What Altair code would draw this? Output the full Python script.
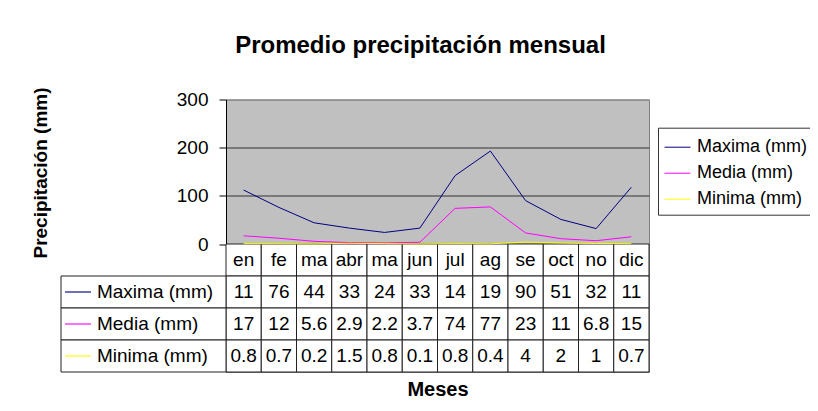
import altair as alt
import pandas as pd

FONT = "Liberation Sans"

meses = ["enero", "febrero", "marzo", "abril", "mayo", "junio", "julio",
         "agosto", "septiembre", "octubre", "noviembre", "diciembre"]
meses_etiqueta = ["en", "fe", "ma", "abr", "ma", "jun", "jul", "ag", "se", "oct", "no", "dic"]
series = ["Maxima (mm)", "Media (mm)", "Minima (mm)"]
colores = ["#000080", "#ff00ff", "#ffff00"]

maxima = [112, 76, 44, 33, 24, 33, 142, 193, 90, 51, 32, 118]
media = [17, 12, 5.6, 2.9, 2.2, 3.7, 74, 77, 23, 11, 6.8, 15]
minima = [0.8, 0.7, 0.2, 1.5, 0.8, 0.1, 0.8, 0.4, 4, 2, 1, 0.7]

tabla_maxima = ["11", "76", "44", "33", "24", "33", "14", "19", "90", "51", "32", "11"]
tabla_media = ["17", "12", "5.6", "2.9", "2.2", "3.7", "74", "77", "23", "11", "6.8", "15"]
tabla_minima = ["0.8", "0.7", "0.2", "1.5", "0.8", "0.1", "0.8", "0.4", "4", "2", "1", "0.7"]

y_ticks = [0, 100, 200, 300]
fila_mes = "mes"
filas = [fila_mes] + series

# ---- data frames built from the lists ----
lineas = pd.DataFrame(
    [{"mes": m, "idx": i, "serie": s, "valor": v}
     for s, vals in zip(series, [maxima, media, minima])
     for i, (m, v) in enumerate(zip(meses, vals))]
)

celdas = [{"mes": m, "fila": fila_mes, "texto": t} for m, t in zip(meses, meses_etiqueta)]
for s, textos in zip(series, [tabla_maxima, tabla_media, tabla_minima]):
    celdas += [{"mes": m, "fila": s, "texto": t} for m, t in zip(meses, textos)]
celdas = pd.DataFrame(celdas)

etiquetas = pd.DataFrame({"col": ["etiqueta"] * len(series), "fila": series, "color": colores})

PLOT_H = 144.5
TOTAL_H = 272.5
WIDTH = 423

mes_band = alt.Scale(domain=meses, type="band", paddingInner=0, paddingOuter=0)
fila_band = alt.Scale(domain=filas, type="band", range=[PLOT_H, TOTAL_H], paddingInner=0, paddingOuter=0)
lab_band = alt.Scale(domain=["etiqueta"], type="band", range=[-165, 0], paddingInner=0, paddingOuter=0)

# ---- table ----
celda_rect = alt.Chart(celdas).mark_rect(fill="white", stroke="#222222", strokeWidth=1).encode(
    x=alt.X("mes:N", scale=mes_band,
            axis=alt.Axis(title="Meses", labels=False, ticks=False, domain=False, grid=False,
                          titleFont=FONT, titleFontSize=20, titleFontWeight="bold",
                          titleColor="black", titlePadding=7)),
    y=alt.Y("fila:N", scale=fila_band, axis=None),
)
celda_texto = alt.Chart(celdas).mark_text(font=FONT, fontSize=19, color="black", baseline="middle").encode(
    x=alt.X("mes:N", scale=mes_band, axis=None, bandPosition=0.5),
    y=alt.Y("fila:N", scale=fila_band, axis=None, bandPosition=0.5),
    text="texto:N",
)

lab_rect = alt.Chart(etiquetas).mark_rect(fill="white", stroke="#222222", strokeWidth=1).encode(
    x=alt.X("col:N", scale=lab_band, axis=None),
    y=alt.Y("fila:N", scale=fila_band, axis=None),
)
lab_clave = alt.Chart(etiquetas).mark_point(shape="stroke", size=676, filled=False,
                                            strokeWidth=1.5, opacity=0.75).encode(
    x=alt.X("col:N", scale=lab_band, axis=None, bandPosition=0.103),
    y=alt.Y("fila:N", scale=fila_band, axis=None, bandPosition=0.5),
    color=alt.Color("color:N", scale=None),
)
lab_texto = alt.Chart(etiquetas).mark_text(font=FONT, fontSize=19, color="black",
                                           align="left", baseline="middle").encode(
    x=alt.X("col:N", scale=lab_band, axis=None, bandPosition=0.218),
    y=alt.Y("fila:N", scale=fila_band, axis=None, bandPosition=0.5),
    text="fila:N",
)

# ---- lines ----
lineas_chart = alt.Chart(lineas).mark_line(strokeWidth=1).encode(
    x=alt.X("mes:N", scale=alt.Scale(domain=meses, type="point", padding=0.5), axis=None),
    y=alt.Y("valor:Q",
            scale=alt.Scale(domain=[0, 300], range=[PLOT_H, 0], nice=False, zero=True),
            axis=alt.Axis(values=y_ticks, title="Precipitación (mm)",
                          titleFont=FONT, titleFontSize=19, titleFontWeight="bold",
                          titleColor="black", titleX=-176, titleY=73,
                          labelFont=FONT, labelFontSize=19, labelColor="black",
                          labelPadding=11, tickSize=7, tickColor="black",
                          domainColor="black", grid=True, gridWidth=1,
                          gridColor={"condition": {"test": "datum.value == 300", "value": "#808080"},
                                     "value": "#333333"})),
    color=alt.Color("serie:N", scale=alt.Scale(domain=series, range=colores),
                    legend=alt.Legend(title=None, orient="none", legendX=432, legendY=28.2,
                                      strokeColor="#333333", fillColor="white", padding=6,
                                      symbolType="stroke", symbolSize=676, symbolStrokeWidth=1,
                                      labelFont=FONT, labelFontSize=18, labelColor="black",
                                      labelOffset=6, rowPadding=3)),
    order=alt.Order("idx:Q"),
)

chart = alt.layer(
    celda_rect, celda_texto, lab_rect, lab_clave, lab_texto, lineas_chart
).resolve_scale(
    x="independent", y="independent", color="independent"
).properties(
    width=WIDTH,
    height=TOTAL_H,
    title=alt.Title("Promedio precipitación mensual", font=FONT, fontSize=24,
                    fontWeight="bold", color="black", anchor="middle", offset=29, dx=-17),
    autosize=alt.AutoSizeParams(type="none"),
    padding={"left": 218, "top": 91.5, "right": 161, "bottom": 35},
    background="white",
).configure_view(
    fill="#c0c0c0", stroke="#808080"
)

chart.save("out.html", embed_options={"renderer": "svg", "actions": False})
